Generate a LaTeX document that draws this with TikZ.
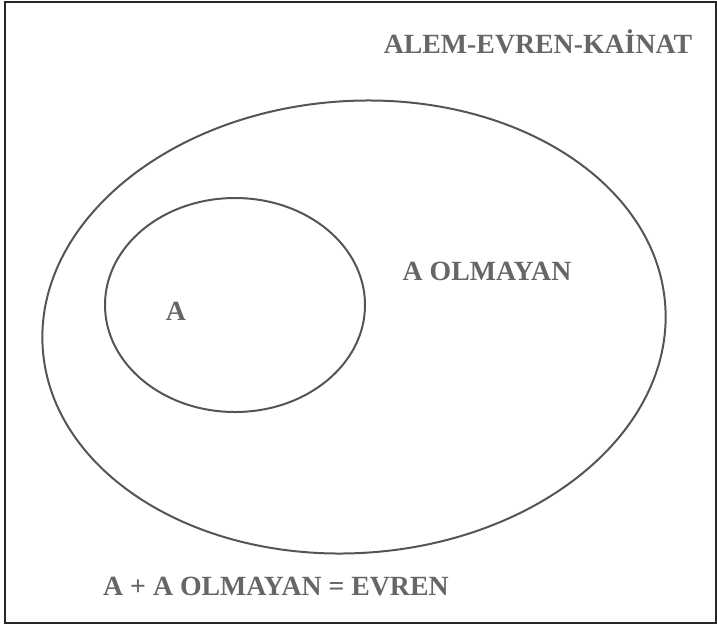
\documentclass[tikz,border=0pt]{standalone}
\usepackage{fontspec}
\setmainfont{Liberation Serif}
\begin{document}
\begin{tikzpicture}[x=1pt,y=-1pt,
  lbl/.style={inner sep=0pt, font=\fontsize{27.8}{30}\selectfont\bfseries, text=txtgray},
  setline/.style={draw=linegray, line width=2pt}]
\definecolor{txtgray}{HTML}{666666}
\definecolor{linegray}{HTML}{555555}
\useasboundingbox (0,0) rectangle (717,625);
\draw[draw=black!85, line width=2pt] (5,2) rectangle (716,623);
% universe
\coordinate (uc) at (354,327);
\draw[setline, rotate around={4:(uc)}] (uc) ellipse [x radius=312, y radius=226];
% set A
\coordinate (ac) at (235,305);
\draw[setline] (ac) ellipse [x radius=130, y radius=107];
% labels
\node[lbl, anchor=base] (title) at (538,53) {ALEM-EVREN-KAİNAT};
\node[lbl, anchor=base] (notA) at (487,280) {A OLMAYAN};
\node[lbl, anchor=base] (A) at (176,320) {A};
\node[lbl, anchor=base west] (sum) at (103,595) {A + A OLMAYAN = EVREN};
\end{tikzpicture}
\end{document}
